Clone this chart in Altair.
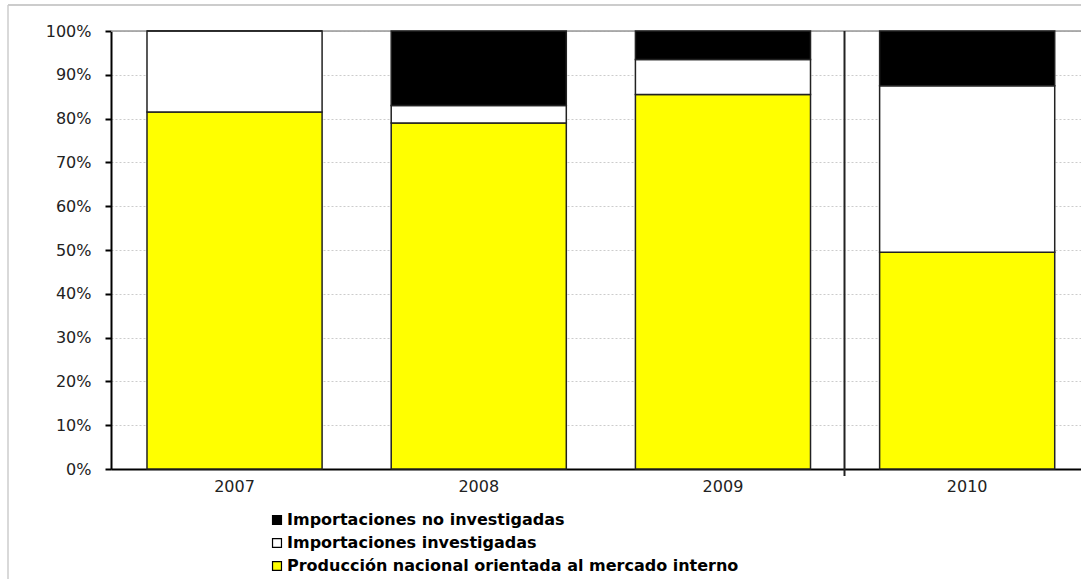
import altair as alt
import pandas as pd

years = ["2007", "2008", "2009", "2010"]
series = [
    "Importaciones no investigadas",
    "Importaciones investigadas",
    "Producción nacional orientada al mercado interno",
]
colors = ["#000000", "#FFFFFF", "#FFFF00"]
no_invest = [0.0, 0.17, 0.065, 0.125]
invest = [0.185, 0.04, 0.08, 0.38]
produccion = [0.815, 0.79, 0.855, 0.495]
y_ticks = [0, 0.1, 0.2, 0.3, 0.4, 0.5, 0.6, 0.7, 0.8, 0.9, 1.0]

rows = []
for i, y in enumerate(years):
    rows.append({"year": y, "serie": series[2], "value": produccion[i], "ord": 0})
    rows.append({"year": y, "serie": series[1], "value": invest[i], "ord": 1})
    rows.append({"year": y, "serie": series[0], "value": no_invest[i], "ord": 2})
df = pd.DataFrame(rows)

W, H = 970, 438

xscale = alt.Scale(domain=years, paddingInner=0.283, paddingOuter=0.1275, align=0.578)

bars = alt.Chart(df).mark_bar(stroke="#222222", strokeWidth=1.5).encode(
    x=alt.X("year:N", scale=xscale, sort=years,
            axis=alt.Axis(title=None, labelAngle=0, ticks=False, domainColor="#000000",
                          domainWidth=2, labelFont="DejaVu Sans", labelFontSize=16,
                          labelColor="#222222", labelPadding=9)),
    y=alt.Y("value:Q", stack="zero", scale=alt.Scale(domain=[0, 1], nice=False),
            axis=alt.Axis(title=None, values=y_ticks, format=".0%", domainColor="#000000",
                          domainWidth=2, tickColor="#000000", tickWidth=2, tickSize=6,
                          labelFont="DejaVu Sans", labelFontSize=16, labelColor="#222222",
                          labelPadding=14, gridColor="#cccccc", gridDash=[2, 2], gridWidth=1)),
    color=alt.Color("serie:N", scale=alt.Scale(domain=series, range=colors),
                    legend=alt.Legend(title=None, orient="none", legendX=158, legendY=481,
                                      symbolType="square", symbolSize=80,
                                      symbolStrokeColor="#000000", symbolStrokeWidth=1.2,
                                      labelFont="DejaVu Sans", labelFontWeight="bold",
                                      labelFontSize=16, labelColor="#000000", labelLimit=0,
                                      rowPadding=7, labelOffset=2)),
    order=alt.Order("ord:Q"),
)

sep = alt.Chart(pd.DataFrame({"year": ["2009"]})).mark_rule(
    color="#222222", strokeWidth=2, xOffset=34
).encode(
    x=alt.X("year:N", bandPosition=1),
    y=alt.value(0),
    y2=alt.value(H + 7),
)

top_line = alt.Chart(pd.DataFrame({"a": [0]})).mark_rule(color="#999999", strokeWidth=1.5).encode(
    x=alt.value(0), x2=alt.value(W + 20), y=alt.value(0)
)
frame_top = alt.Chart(pd.DataFrame({"a": [0]})).mark_rule(color="#bbbbbb", strokeWidth=1.5).encode(
    x=alt.value(-103), x2=alt.value(W + 20), y=alt.value(-26)
)
frame_left = alt.Chart(pd.DataFrame({"a": [0]})).mark_rule(color="#cccccc", strokeWidth=1.5).encode(
    x=alt.value(-103), y=alt.value(-26), y2=alt.value(H + 130)
)

chart = alt.layer(frame_top, frame_left, top_line, bars, sep).properties(
    width=W, height=H,
    autosize=alt.AutoSizeParams(type="none"),
    padding={"left": 111, "top": 31, "right": 0, "bottom": 110},
).configure_view(stroke=None).configure(background="white")

chart.save("out.html", embed_options={"renderer": "svg", "actions": False})
